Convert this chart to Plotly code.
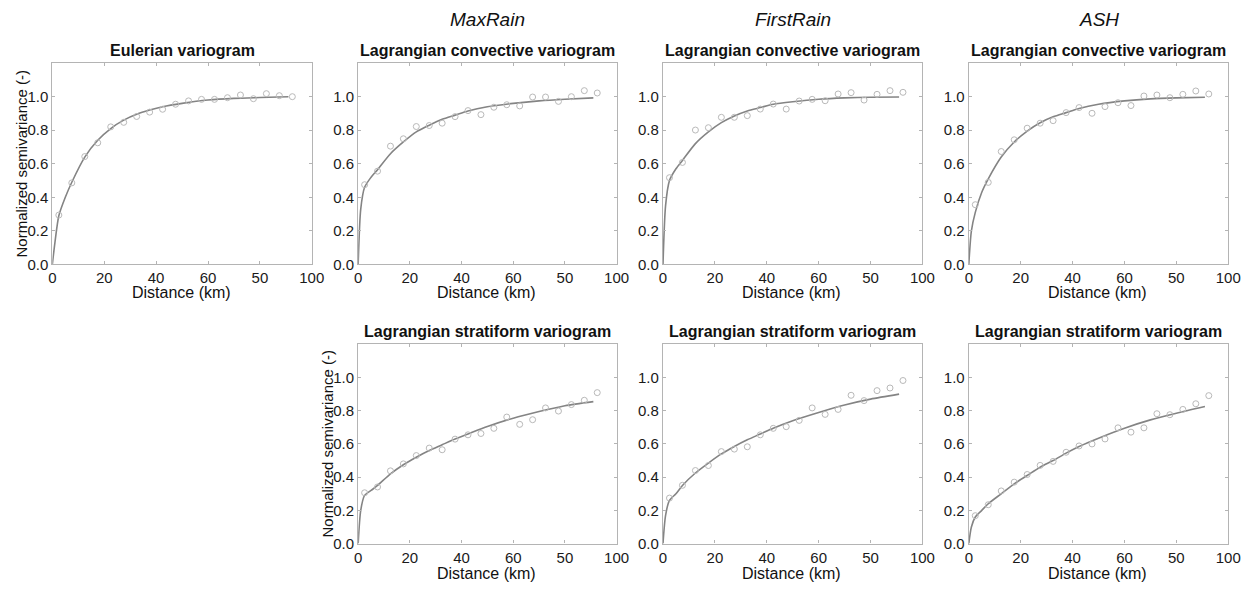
import plotly.graph_objects as go

# ---------------- data ----------------
LAG_X = [2.5, 7.5, 12.5, 17.5, 22.5, 27.5, 32.5, 37.5, 42.5, 47.5,
         52.5, 57.5, 62.5, 67.5, 72.5, 77.5, 82.5, 87.5, 92.5]
FIT_X = [0, 1, 2.5, 5, 7.5, 12.5, 17.5, 22.5, 27.5, 32.5, 37.5, 42.5,
         50, 60, 70, 80, 91]

X_TICKS = [0, 20, 40, 60, 80, 100]
X_TICK_LABELS = ["0", "20", "40", "60", "50", "100"]
Y_TICKS = [0.0, 0.2, 0.4, 0.6, 0.8, 1.0]
Y_TICK_LABELS = ["0.0", "0.2", "0.4", "0.6", "0.8", "1.0"]

COLUMN_HEADERS = ["MaxRain", "FirstRain", "ASH"]

euler_emp = [0.294, 0.486, 0.643, 0.725, 0.820, 0.847, 0.882, 0.908, 0.925, 0.955,
             0.975, 0.984, 0.984, 0.994, 1.010, 0.988, 1.018, 1.006, 1.000]
euler_fit = [0, 0.13, 0.29, 0.40, 0.49, 0.64, 0.74, 0.81, 0.86, 0.895, 0.92, 0.94,
             0.96, 0.98, 0.99, 0.995, 1.0]

maxrain_conv_emp = [0.475, 0.556, 0.705, 0.749, 0.822, 0.828, 0.842, 0.881, 0.917, 0.893,
                    0.937, 0.952, 0.945, 0.998, 0.998, 0.972, 1.000, 1.036, 1.022]
maxrain_conv_fit = [0, 0.33, 0.46, 0.52, 0.565, 0.66, 0.73, 0.79, 0.83, 0.865, 0.89, 0.915,
                    0.94, 0.96, 0.975, 0.985, 0.993]

firstrain_conv_emp = [0.517, 0.608, 0.801, 0.815, 0.877, 0.877, 0.887, 0.926, 0.956, 0.926,
                      0.974, 0.984, 0.976, 1.016, 1.024, 0.980, 1.014, 1.036, 1.026]
firstrain_conv_fit = [0, 0.35, 0.50, 0.57, 0.62, 0.72, 0.79, 0.845, 0.885, 0.915, 0.935, 0.955,
                      0.97, 0.985, 0.993, 0.997, 0.998]

ash_conv_emp = [0.356, 0.489, 0.673, 0.743, 0.812, 0.842, 0.857, 0.905, 0.935, 0.901,
                0.941, 0.964, 0.947, 1.004, 1.010, 0.994, 1.014, 1.034, 1.016]
ash_conv_fit = [0, 0.20, 0.31, 0.43, 0.51, 0.64, 0.73, 0.795, 0.845, 0.88, 0.905, 0.93,
                0.955, 0.975, 0.987, 0.993, 0.997]

maxrain_strat_emp = [0.306, 0.341, 0.438, 0.480, 0.530, 0.575, 0.565, 0.629, 0.655, 0.663,
                     0.694, 0.762, 0.718, 0.746, 0.817, 0.798, 0.837, 0.863, 0.909]
maxrain_strat_fit = [0, 0.20, 0.29, 0.32, 0.35, 0.42, 0.475, 0.52, 0.56, 0.595, 0.63, 0.66,
                     0.705, 0.755, 0.795, 0.83, 0.855]

firstrain_strat_emp = [0.274, 0.351, 0.440, 0.470, 0.554, 0.569, 0.583, 0.655, 0.694, 0.704,
                       0.742, 0.817, 0.778, 0.808, 0.893, 0.861, 0.921, 0.937, 0.982]
firstrain_strat_fit = [0, 0.17, 0.26, 0.30, 0.35, 0.425, 0.485, 0.54, 0.585, 0.625, 0.66, 0.695,
                       0.74, 0.79, 0.835, 0.87, 0.90]

ash_strat_emp = [0.168, 0.234, 0.317, 0.370, 0.416, 0.471, 0.495, 0.550, 0.588, 0.600,
                 0.630, 0.697, 0.671, 0.697, 0.782, 0.776, 0.808, 0.842, 0.891]
ash_strat_fit = [0, 0.10, 0.16, 0.20, 0.24, 0.30, 0.36, 0.41, 0.46, 0.50, 0.545, 0.585,
                 0.635, 0.695, 0.745, 0.785, 0.825]

# ---------------- layout config ----------------
W, H = 1260, 595
COLS = [(49, 312), (359, 621), (668, 931), (978, 1241)]   # px
ROWS = [(64, 268), (349, 551)]                            # px (top, bottom)
XTITLE_OFFSET = [28, 30]                                  # px below plot bottom

panels = [
    # (row, col, title, emp, fit, ylabel)
    (0, 0, "Eulerian variogram", euler_emp, euler_fit, True),
    (0, 1, "Lagrangian convective variogram", maxrain_conv_emp, maxrain_conv_fit, False),
    (0, 2, "Lagrangian convective variogram", firstrain_conv_emp, firstrain_conv_fit, False),
    (0, 3, "Lagrangian convective variogram", ash_conv_emp, ash_conv_fit, False),
    (1, 1, "Lagrangian stratiform variogram", maxrain_strat_emp, maxrain_strat_fit, True),
    (1, 2, "Lagrangian stratiform variogram", firstrain_strat_emp, firstrain_strat_fit, False),
    (1, 3, "Lagrangian stratiform variogram", ash_strat_emp, ash_strat_fit, False),
]

FONT = "Liberation Sans, Arial, sans-serif"
FRAME = "#b4b4b4"
LINE_C = "#848484"
MARK_C = "#b9b9b9"

fig = go.Figure()
annotations = []

def px_x(v):
    return v / W

def px_y(v):
    return 1 - v / H

for i, (r, c, title, emp, fit, ylab) in enumerate(panels):
    n = "" if i == 0 else str(i + 1)
    xa, ya = "x" + n, "y" + n
    x0, x1 = COLS[c]
    t0, b0 = ROWS[r]
    fig.add_trace(go.Scatter(x=FIT_X, y=fit, mode="lines",
                             line=dict(color=LINE_C, width=1.6, shape="spline", smoothing=0.7),
                             xaxis=xa, yaxis=ya, showlegend=False, hoverinfo="skip"))
    fig.add_trace(go.Scatter(x=LAG_X, y=emp, mode="markers",
                             marker=dict(symbol="circle-open", size=6, color=MARK_C,
                                         line=dict(width=1, color=MARK_C)),
                             xaxis=xa, yaxis=ya, showlegend=False))
    common = dict(showline=True, linecolor=FRAME, linewidth=1.2, mirror="ticks",
                  ticks="inside", ticklen=3, tickcolor=FRAME, tickwidth=1,
                  showgrid=False, zeroline=False,
                  tickfont=dict(family=FONT, size=15, color="#1a1a1a"))
    fig.layout["xaxis" + n] = dict(domain=[px_x(x0), px_x(x1)], range=[0, 100],
                                   tickvals=X_TICKS, ticktext=X_TICK_LABELS,
                                   ticklabelstandoff=0, anchor=ya, **common)
    fig.layout["yaxis" + n] = dict(domain=[px_y(b0), px_y(t0)], range=[0, 1.2],
                                   tickvals=Y_TICKS, ticktext=Y_TICK_LABELS,
                                   anchor=xa, **common)
    cx = (x0 + x1) / 2
    annotations.append(dict(x=px_x(cx), y=px_y(t0 - 13), xref="paper", yref="paper",
                            text="<b>" + title + "</b>", showarrow=False,
                            font=dict(family=FONT, size=16, color="#111"),
                            xanchor="center", yanchor="middle"))
    annotations.append(dict(x=px_x(cx - 1), y=px_y(b0 + XTITLE_OFFSET[r]), xref="paper",
                            yref="paper", text="Distance (km)", showarrow=False,
                            font=dict(family=FONT, size=16, color="#111"),
                            xanchor="center", yanchor="middle"))
    if ylab:
        annotations.append(dict(x=px_x(x0 - 31), y=px_y((t0 + b0) / 2), xref="paper",
                                yref="paper", text="Normalized semivariance (-)",
                                textangle=-90, showarrow=False,
                                font=dict(family=FONT, size=15, color="#111"),
                                xanchor="center", yanchor="middle"))

for k, hdr in enumerate(COLUMN_HEADERS):
    x0, x1 = COLS[k + 1]
    annotations.append(dict(x=px_x((x0 + x1) / 2), y=px_y(20), xref="paper", yref="paper",
                            text="<i>" + hdr + "</i>", showarrow=False,
                            font=dict(family=FONT, size=19, color="#111"),
                            xanchor="center", yanchor="middle"))

fig.update_layout(width=W, height=H, margin=dict(l=0, r=0, t=0, b=0),
                  paper_bgcolor="white", plot_bgcolor="white",
                  annotations=annotations, showlegend=False)

fig.write_html("out.html", config={"displayModeBar": False},
               post_script="document.body.style.margin='0';document.body.style.overflow='hidden';")
